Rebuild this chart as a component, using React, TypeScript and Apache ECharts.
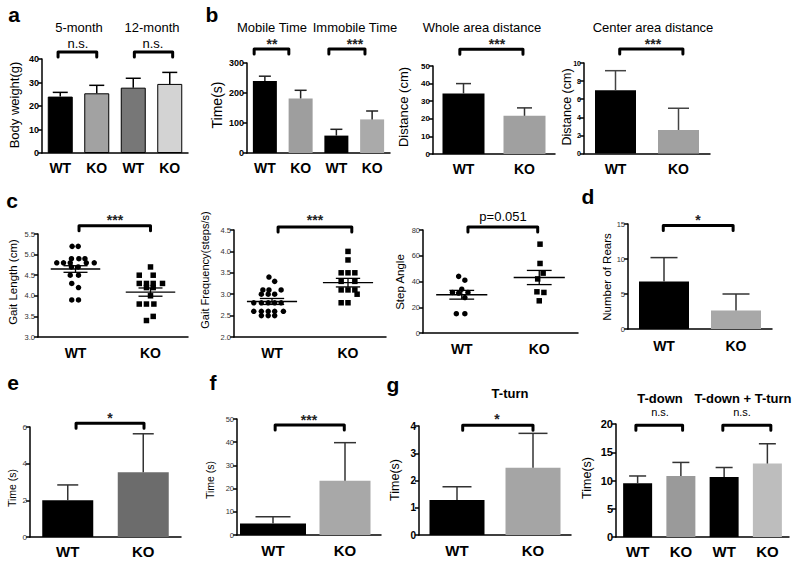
import React, { useEffect, useRef } from 'react';
import * as echarts from 'echarts';

const FONT = '"Liberation Sans", Arial, Helvetica, sans-serif';

// ---------------- data ----------------
const cats2 = ['WT', 'KO'];
const cats4 = ['WT', 'KO', 'WT', 'KO'];

// a: body weight (g) at 5 and 12 months
const bodyWeightMean = [24.0, 25.4, 27.8, 29.4];
const bodyWeightErr = [1.8, 3.4, 4.0, 4.9];
// b: mobile / immobile time (s)
const mobileTimeMean = [240, 182, 58, 112];
const mobileTimeErr = [16, 27, 21, 28];
// b: whole area distance (cm)
const wholeDistMean = [34.4, 21.7];
const wholeDistErr = [5.6, 4.5];
// b: center area distance (cm)
const centerDistMean = [7.0, 2.6];
const centerDistErr = [2.15, 2.4];
// c: gait length (cm)
const gaitLenWT = [5.2, 5.2, 4.9, 4.9, 4.9, 4.8, 4.8, 4.8, 4.8, 4.8, 4.7, 4.7, 4.5, 4.5, 4.3, 4.2, 3.9, 3.9];
const gaitLenWTJitter = [-0.045, 0.036, -0.054, 0.045, 0.126, -0.25, -0.16, -0.07, 0.144, 0.25, -0.054, 0.036, -0.07, 0.04, -0.05, 0.04, -0.05, 0.04];
const gaitLenKO = [4.7, 4.5, 4.5, 4.3, 4.3, 4.3, 4.3, 4.2, 4.2, 4.0, 3.8, 3.8, 3.8, 3.5, 3.4];
const gaitLenKOJitter = [0, -0.15, 0.036, -0.15, -0.054, 0.036, 0.16, -0.054, 0.036, 0, -0.15, -0.054, 0.045, 0.036, -0.054];
const gaitLenMean = [4.65, 4.09];
const gaitLenSem = [0.08, 0.1];
// c: gait frequency (steps/s)
const gaitFreqWT = [3.4, 3.3, 3.1, 3.1, 3.1, 3.0, 3.0, 3.0, 2.8, 2.8, 2.8, 2.8, 2.8, 2.6, 2.6, 2.6, 2.6, 2.6, 2.5, 2.5, 2.5];
const gaitFreqWTJitter = [-0.04, 0.035, -0.12, -0.04, 0.12, -0.14, -0.05, 0.035, -0.24, -0.14, -0.05, 0.035, 0.12, -0.24, -0.14, -0.05, 0.035, 0.15, -0.14, -0.05, 0.035];
const gaitFreqKO = [4.0, 3.8, 3.5, 3.5, 3.5, 3.3, 3.3, 3.1, 3.1, 3.1, 3.0, 2.8, 2.8];
const gaitFreqKOJitter = [0, 0, -0.09, 0, 0.09, -0.09, 0.09, -0.09, 0, 0.09, 0.12, -0.09, 0];
const gaitFreqMean = [2.83, 3.27];
const gaitFreqSem = [0.07, 0.1];
// c: step angle
const stepAngleWT = [44, 41, 34, 31.5, 31, 31.5, 27.5, 15, 15];
const stepAngleWTJitter = [-0.04, 0.04, 0, -0.12, -0.04, 0.08, 0.04, -0.07, 0.04];
const stepAngleKO = [69, 54, 46.5, 42, 32, 31.5, 25];
const stepAngleKOJitter = [0.01, 0.01, 0.05, -0.02, -0.03, 0.06, 0];
const stepAngleMean = [29.7, 43.1];
const stepAngleSem = [3.4, 5.5];
// d: number of rears
const rearsMean = [6.8, 2.66];
const rearsErr = [3.4, 2.34];
// e: time (s)
const eTimeMean = [2.0, 3.53];
const eTimeErr = [0.84, 2.1];
// f: time (s)
const fTimeMean = [5.0, 23.4];
const fTimeErr = [2.9, 16.4];
// g: T-turn, T-down, T-down + T-turn (s)
const tTurnMean = [1.28, 2.47];
const tTurnErr = [0.49, 1.26];
const tDownMean = [9.5, 10.8, 10.6, 13.0];
const tDownErr = [1.3, 2.4, 1.7, 3.5];

// significance brackets: [x start, x end, y] in axis units
const aBrackets = [[-0.06, 1.0, 43], [2.03, 3.08, 43]];
const bMobileBrackets = [[-0.3, 0.67, 347], [1.79, 2.8, 347]];
const bWholeBrackets = [[-0.06, 0.975, 59.5]];
const bCenterBrackets = [[0.067, 1.07, 11.55]];
const cLenBrackets = [[0.047, 1.0, 5.7]];
const cFreqBrackets = [[0.08, 1.05, 4.57]];
const cAngleBrackets = [[0.08, 0.98, 82.3]];
const dBrackets = [[-0.01, 0.96, 14.8]];
const eBrackets = [[0.11, 1.01, 6.2]];
const fBrackets = [[0.03, 0.99, 47.4]];
const gTurnBrackets = [[0.075, 1.0, 4.03]];
const gDownBrackets = [[-0.04, 1.04, 19.8], [1.97, 3.08, 19.8]];

// ---------------- panel layout ----------------
type Panel = {
  box: number[];
  cats: string[];
  y: number[];
  yFont: number;
  yBold: boolean;
  dec?: number;
  xFont: number;
  xMargin: number;
  bars?: { mean: number[]; err: number[]; colors: string[]; width: number | number[]; border?: boolean; cap: number | number[]; errColor: string };
  scatter?: { groups: { dx: number[]; v: number[]; symbol: string }[]; mean: number[]; sem: number[] };
  brackets: number[][];
};

const panels: Panel[] = [
  { box: [42, 59, 146, 94], cats: cats4, y: [0, 40, 10], yFont: 9, yBold: true, xFont: 14, xMargin: 8,
    bars: { mean: bodyWeightMean, err: bodyWeightErr, colors: ['#000000', '#a2a2a2', '#777777', '#d3d3d3'], width: 25, border: true, cap: 15, errColor: '#000' },
    brackets: aBrackets },
  { box: [247, 63, 143, 90], cats: cats4, y: [0, 300, 100], yFont: 9, yBold: true, xFont: 14, xMargin: 8,
    bars: { mean: mobileTimeMean, err: mobileTimeErr, colors: ['#000000', '#9e9e9e', '#000000', '#aaaaaa'], width: 24, cap: 12, errColor: '#222' },
    brackets: bMobileBrackets },
  { box: [433, 66, 122, 88], cats: cats2, y: [0, 50, 10], yFont: 8, yBold: true, xFont: 14, xMargin: 8,
    bars: { mean: wholeDistMean, err: wholeDistErr, colors: ['#000000', '#a0a0a0'], width: 42, cap: 15, errColor: '#333' },
    brackets: bWholeBrackets },
  { box: [584, 63, 126, 90.5], cats: cats2, y: [0, 10, 2], yFont: 7, yBold: true, xFont: 14, xMargin: 8,
    bars: { mean: centerDistMean, err: centerDistErr, colors: ['#000000', '#a0a0a0'], width: 41, cap: 21, errColor: '#444' },
    brackets: bCenterBrackets },
  { box: [38, 234, 150, 103], cats: cats2, y: [3, 5.5, 0.5], dec: 1, yFont: 7.5, yBold: false, xFont: 14, xMargin: 9,
    scatter: { groups: [{ dx: gaitLenWTJitter, v: gaitLenWT, symbol: 'circle' }, { dx: gaitLenKOJitter, v: gaitLenKO, symbol: 'rect' }], mean: gaitLenMean, sem: gaitLenSem },
    brackets: cLenBrackets },
  { box: [234, 230, 152, 107], cats: cats2, y: [2, 4.5, 0.5], dec: 1, yFont: 7.5, yBold: false, xFont: 14, xMargin: 9,
    scatter: { groups: [{ dx: gaitFreqWTJitter, v: gaitFreqWT, symbol: 'circle' }, { dx: gaitFreqKOJitter, v: gaitFreqKO, symbol: 'rect' }], mean: gaitFreqMean, sem: gaitFreqSem },
    brackets: cFreqBrackets },
  { box: [423, 230, 155, 103], cats: cats2, y: [0, 80, 20], yFont: 7.5, yBold: false, xFont: 14, xMargin: 9,
    scatter: { groups: [{ dx: stepAngleWTJitter, v: stepAngleWT, symbol: 'circle' }, { dx: stepAngleKOJitter, v: stepAngleKO, symbol: 'rect' }], mean: stepAngleMean, sem: stepAngleSem },
    brackets: cAngleBrackets },
  { box: [628, 224, 144, 105], cats: cats2, y: [0, 15, 5], yFont: 7.5, yBold: false, xFont: 14, xMargin: 10,
    bars: { mean: rearsMean, err: rearsErr, colors: ['#000000', '#a8a8a8'], width: 50, cap: 27, errColor: '#333' },
    brackets: dBrackets },
  { box: [30, 427, 151, 110], cats: cats2, y: [0, 6, 2], yFont: 8, yBold: false, xFont: 15, xMargin: 7,
    bars: { mean: eTimeMean, err: eTimeErr, colors: ['#000000', '#6c6c6c'], width: 51, cap: 21, errColor: '#333' },
    brackets: eBrackets },
  { box: [237, 419, 144, 116], cats: cats2, y: [0, 50, 10], yFont: 7.5, yBold: false, xFont: 15, xMargin: 8,
    bars: { mean: fTimeMean, err: fTimeErr, colors: ['#000000', '#a8a8a8'], width: [66, 51], cap: [35, 22], errColor: '#333' },
    brackets: fBrackets },
  { box: [419, 426, 152, 109], cats: cats2, y: [0, 4, 1], yFont: 10, yBold: true, xFont: 15, xMargin: 8,
    bars: { mean: tTurnMean, err: tTurnErr, colors: ['#000000', '#a5a5a5'], width: 55, cap: 29, errColor: '#333' },
    brackets: gTurnBrackets },
  { box: [616, 424, 173, 113], cats: cats4, y: [0, 20, 5], yFont: 11, yBold: true, xFont: 15, xMargin: 7,
    bars: { mean: tDownMean, err: tDownErr, colors: ['#000000', '#9a9a9a', '#000000', '#bdbdbd'], width: 29, cap: 17, errColor: '#333' },
    brackets: gDownBrackets },
];

// ---------------- texts ----------------
type T = [string, number, number, number, boolean?, number?, string?];
const texts: T[] = [
  // panel letters
  ['a', 14, 14, 21, true], ['b', 212, 14, 21, true], ['c', 12, 200, 21, true], ['d', 588, 196, 21, true],
  ['e', 13, 382, 21, true], ['f', 213, 382, 21, true], ['g', 393, 384, 21, true],
  // a
  ['5-month', 79, 27, 13], ['12-month', 152, 27, 13], ['n.s.', 78, 43, 13], ['n.s.', 153, 43, 13],
  // b
  ['Mobile Time', 272, 27, 13], ['Immobile Time', 355, 27, 13], ['**', 272, 44, 14, true, 0, '#222'], ['***', 355, 44, 14, true, 0, '#222'],
  ['Whole area distance', 482, 27, 13], ['***', 497, 44, 14, true, 0, '#222'],
  ['Center area distance', 653, 27, 13], ['***', 653, 44, 14, true, 0, '#222'],
  // c, d
  ['***', 115, 220, 14, true, 0, '#222'], ['***', 315, 220, 14, true, 0, '#222'], ['p=0.051', 503, 216, 13], ['*', 698, 220, 14, true, 0, '#222'],
  // e, f, g
  ['*', 110, 418, 14, true, 0, '#222'], ['***', 309, 420, 14, true, 0, '#222'],
  ['T-turn', 510, 393, 13, true], ['*', 497, 419, 14, true, 0, '#222'],
  ['T-down', 660, 398, 13, true], ['T-down + T-turn', 743, 398, 13, true], ['n.s.', 660, 412, 11], ['n.s.', 742, 412, 11],
  // y axis names (rotated)
  ['Body weight(g)', 14, 105, 13, false, 1], ['Time(s)', 217, 105, 14, false, 1],
  ['Distance (cm)', 403, 107, 13, false, 1], ['Distance (cm)', 567, 107, 12.5, false, 1],
  ['Gait Length (cm)', 13, 282, 11.5, false, 1], ['Gait Frequency(steps/s)', 205, 270, 11, false, 1],
  ['Step Angle', 400, 282, 11.5, false, 1], ['Number of Rears', 607, 277, 11.5, false, 1],
  ['Time (s)', 12, 488, 10.5, false, 1], ['Time (s)', 210, 480, 10.5, false, 1],
  ['Time(s)', 395, 480, 12.5, false, 1], ['Time(s)', 587, 478, 12.5, false, 1],
];

function buildOption() {
  const grid: any[] = [];
  const xAxis: any[] = [];
  const yAxis: any[] = [];
  const series: any[] = [];
  const axisLine = { onZero: false, lineStyle: { color: '#000', width: 1.5 } };

  panels.forEach((p, i) => {
    const [l, t, w, h] = p.box;
    grid.push({ left: l, top: t, width: w, height: h });
    const catIdx = xAxis.length;
    xAxis.push({
      type: 'category', gridIndex: i, data: p.cats, position: 'bottom',
      axisLine, axisTick: { alignWithLabel: true, length: 4, lineStyle: { color: '#000', width: 1.5 } },
      axisLabel: { fontFamily: FONT, fontWeight: 'bold', fontSize: p.xFont, color: '#000', margin: p.xMargin },
      splitLine: { show: false },
    });
    const valIdx = xAxis.length;
    xAxis.push({ type: 'value', gridIndex: i, min: -0.5, max: p.cats.length - 0.5, show: false, position: 'top' });
    yAxis.push({
      type: 'value', gridIndex: i, min: p.y[0], max: p.y[1], interval: p.y[2],
      axisLine: { show: true, ...axisLine }, axisTick: { show: true, length: 4, lineStyle: { color: '#000', width: 1.5 } },
      axisLabel: {
        fontFamily: FONT, fontSize: p.yFont, fontWeight: p.yBold ? 'bold' : 'normal', color: p.yBold ? '#000' : '#333', margin: 3,
        formatter: (v: number) => (p.dec ? v.toFixed(p.dec) : String(v)),
      },
      splitLine: { show: false },
    });

    if (p.bars) {
      const b = p.bars;
      const style = (k: number) => ({ color: b.colors[k], borderColor: b.border ? '#000' : b.colors[k], borderWidth: b.border ? 1 : 0 });
      if (Array.isArray(b.width)) {
        b.mean.forEach((m, k) => {
          let ax = catIdx;
          if (k > 0) {
            ax = xAxis.length;
            xAxis.push({ type: 'category', gridIndex: i, data: p.cats, show: false });
          }
          series.push({
            type: 'bar', xAxisIndex: ax, yAxisIndex: i, barWidth: (b.width as number[])[k],
            data: b.mean.map((v, j) => (j === k ? { value: v, itemStyle: style(j) } : '-')),
          });
        });
      } else {
        series.push({
          type: 'bar', xAxisIndex: catIdx, yAxisIndex: i, barWidth: b.width,
          data: b.mean.map((v, k) => ({ value: v, itemStyle: style(k) })),
        });
      }
      series.push({
        type: 'custom', xAxisIndex: valIdx, yAxisIndex: i, clip: false, silent: true, z: 3,
        data: b.mean.map((m, k) => [k, m, b.err[k]]),
        renderItem: (params: any, api: any) => {
          const x = api.value(0), m = api.value(1), e = api.value(2);
          const p0 = api.coord([x, m]);
          const p1 = api.coord([x, m + e]);
          const cap = Array.isArray(b.cap) ? b.cap[params.dataIndex] : b.cap;
          const st = { stroke: b.errColor, lineWidth: 1.5 };
          return {
            type: 'group', children: [
              { type: 'line', shape: { x1: p0[0], y1: p0[1], x2: p1[0], y2: p1[1] }, style: st },
              { type: 'line', shape: { x1: p1[0] - cap / 2, y1: p1[1], x2: p1[0] + cap / 2, y2: p1[1] }, style: st },
            ],
          };
        },
      });
    }

    if (p.scatter) {
      const s = p.scatter;
      s.groups.forEach((g, gi) => {
        series.push({
          type: 'scatter', xAxisIndex: valIdx, yAxisIndex: i, symbol: g.symbol, symbolSize: g.symbol === 'rect' ? 5.5 : 5.5,
          itemStyle: { color: '#000', opacity: 1 }, silent: true,
          data: g.v.map((v, k) => [gi + g.dx[k], v]),
        });
      });
      series.push({
        type: 'custom', xAxisIndex: valIdx, yAxisIndex: i, clip: false, silent: true, z: 3,
        data: s.mean.map((m, k) => [k, m, s.sem[k]]),
        renderItem: (params: any, api: any) => {
          const x = api.value(0), m = api.value(1), e = api.value(2);
          const a = api.coord([x - 0.33, m]);
          const c = api.coord([x + 0.33, m]);
          const lo = api.coord([x, m - e]);
          const hi = api.coord([x, m + e]);
          const cw = api.size([0.32, 0])[0];
          const st = { stroke: '#000', lineWidth: 1.3 };
          return {
            type: 'group', children: [
              { type: 'line', shape: { x1: a[0], y1: a[1], x2: c[0], y2: c[1] }, style: st },
              { type: 'line', shape: { x1: lo[0], y1: lo[1], x2: hi[0], y2: hi[1] }, style: st },
              { type: 'line', shape: { x1: hi[0] - cw / 2, y1: hi[1], x2: hi[0] + cw / 2, y2: hi[1] }, style: st },
              { type: 'line', shape: { x1: lo[0] - cw / 2, y1: lo[1], x2: lo[0] + cw / 2, y2: lo[1] }, style: st },
            ],
          };
        },
      });
    }

    series.push({
      type: 'custom', xAxisIndex: valIdx, yAxisIndex: i, clip: false, silent: true, z: 4,
      data: p.brackets,
      renderItem: (params: any, api: any) => {
        const p1 = api.coord([api.value(0), api.value(2)]);
        const p2 = api.coord([api.value(1), api.value(2)]);
        return {
          type: 'polyline',
          shape: { points: [[p1[0], p1[1] + 5], [p1[0], p1[1]], [p2[0], p2[1]], [p2[0], p2[1] + 5]] },
          style: { stroke: '#000', lineWidth: 3, fill: null, lineJoin: 'round', lineCap: 'round' },
        };
      },
    });
  });

  const graphic = texts.map(([text, x, y, size, bold, rot, color]) => ({
    type: 'text', x, y, rotation: rot ? Math.PI / 2 : 0, silent: true,
    style: {
      text, fontFamily: FONT, fontSize: size, fontWeight: bold ? 'bold' : 'normal',
      fill: color || '#000', align: 'center', verticalAlign: 'middle',
    },
  }));

  return { animation: false, backgroundColor: '#fff', grid, xAxis, yAxis, series, graphic };
}

export default function App() {
  const ref = useRef<HTMLDivElement>(null);
  useEffect(() => {
    document.body.style.margin = '0';
    if (!ref.current) return;
    const chart = echarts.init(ref.current, undefined, { renderer: 'svg' });
    chart.setOption(buildOption() as any);
    return () => chart.dispose();
  }, []);
  return <div ref={ref} style={{ width: 800, height: 566 }} />;
}
